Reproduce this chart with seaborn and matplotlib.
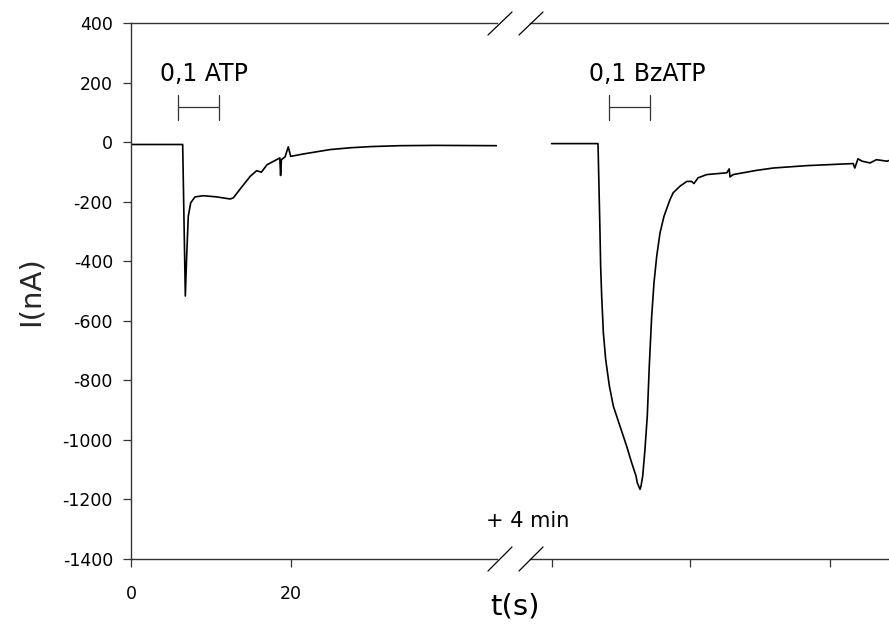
import numpy as np
import pandas as pd
import matplotlib
matplotlib.use("Agg")
import matplotlib.pyplot as plt
from matplotlib.lines import Line2D
import seaborn as sns

# ---- data ----
# left segment: time (s), current (nA)
t_left = [0, 6.46, 6.79, 6.96, 7.16, 7.46, 8.0, 9.04, 10.7, 12.4, 12.8, 13.6, 14.9,
          15.7, 16.3, 17.0, 18.2, 18.6, 18.7, 18.8, 19.25, 19.66, 19.96, 21.5, 24.9,
          27.4, 30.0, 33.6, 38.0, 45.75]
i_left = [-8, -8, -517, -383, -249, -204, -184, -180, -184, -191, -187, -159, -115,
          -96, -101, -76, -59, -53, -112, -59, -50, -16, -48, -40, -25,
          -19, -15, -12, -11, -12]

# right segment (after the 4 min break): time (s) from segment start, current (nA)
t_right = [2.7, 8.5, 8.66, 8.75, 8.83, 8.96, 9.17, 9.46, 9.92, 10.42, 11.25, 12.08,
           12.71, 13.25, 13.41, 13.75, 13.88, 14.09, 14.37, 14.66, 14.91, 15.21, 15.5,
           15.84, 16.25, 16.75, 17.5, 17.9, 18.75, 19.6, 20.2, 20.5, 21.0, 22.1, 24.6,
           24.9, 25.0, 25.4, 28.3, 30.4, 34.6, 40.4, 40.6, 41.0, 41.5, 42.5, 43.3,
           44.6, 44.875]
i_right = [-5, -5, -193, -305, -417, -517, -640, -730, -819, -887, -954, -1021,
           -1077, -1121, -1144, -1166, -1155, -1121, -1032, -920, -752, -585, -472,
           -383, -305, -249, -193, -170, -148, -132, -132, -139, -120, -109, -103,
           -90, -117, -109, -95, -87, -79, -72, -87, -56, -64, -70, -59,
           -64, -62]

left_ticks = [0, 20]
right_ticks = [2.75, 20, 37.5]
y_ticks = [400, 200, 0, -200, -400, -600, -800, -1000, -1200, -1400]

bar_left = (5.9, 11.0)
bar_right = (9.9, 15.0)
bar_level = 117
label_level = 230
label_left = "0,1 ATP"
label_right = "0,1 BzATP"
label_left_t = 9.1
label_right_t = 14.6

df_left = pd.DataFrame({"t": t_left, "I": i_left})
df_right = pd.DataFrame({"t": t_right, "I": i_right})

sns.set_style("ticks")
plt.rcParams["font.family"] = ["DejaVu Sans"]
plt.rcParams["axes.unicode_minus"] = False
plt.rcParams["text.color"] = "black"

W, H = 889, 630
fig = plt.figure(figsize=(W / 100, H / 100), dpi=100)

y_top, y_bot = 23, 559
ax1 = fig.add_axes([131 / W, 1 - y_bot / H, (497 - 131) / W, (y_bot - y_top) / H])
ax2 = fig.add_axes([530 / W, 1 - y_bot / H, (889 - 530) / W, (y_bot - y_top) / H])

sns.lineplot(data=df_left, x="t", y="I", ax=ax1, sort=False, estimator=None,
             color="black", linewidth=1.2)
sns.lineplot(data=df_right, x="t", y="I", ax=ax2, sort=False, estimator=None,
             color="black", linewidth=1.2)

for ax in (ax1, ax2):
    ax.set_ylim(-1400, 400)
    ax.set_xlabel("")
    ax.set_ylabel("")
    ax.spines["right"].set_visible(False)
    for s in ("top", "bottom", "left"):
        ax.spines[s].set_color("#333333")
        ax.spines[s].set_linewidth(1.0)
    ax.tick_params(axis="both", direction="out", length=6, width=0.9,
                   colors="#333333", labelcolor="black", labelsize=12.5)

ax1.set_xlim(0, 45.75)
ax1.set_xticks(left_ticks)
ax1.set_yticks(y_ticks)
ax1.tick_params(axis="x", pad=13)
ax1.tick_params(axis="y", pad=7)

ax2.set_xlim(0, 44.875)
ax2.set_xticks(right_ticks)
ax2.set_xticklabels([""] * len(right_ticks))
ax2.set_yticks([])
ax2.spines["left"].set_visible(False)

ax1.set_ylabel("I(nA)", fontsize=21)
ax1.yaxis.set_label_coords(-0.235, 0.5)

# stimulus bars
for ax, (a, b), lab, lt in ((ax1, bar_left, label_left, label_left_t),
                            (ax2, bar_right, label_right, label_right_t)):
    ax.plot([a, b], [bar_level, bar_level], color="#333333", lw=0.9)
    ax.plot([a, a], [bar_level - 42, bar_level + 42], color="#333333", lw=0.9)
    ax.plot([b, b], [bar_level - 42, bar_level + 42], color="#333333", lw=0.9)
    ax.text(lt, label_level, lab, ha="center", va="center", fontsize=17)

# axis break marks
for x0 in (488, 519):
    for (ya, yb) in ((35, 12), (571, 547)):
        fig.add_artist(Line2D([x0 / W, (x0 + 24) / W], [1 - ya / H, 1 - yb / H],
                              transform=fig.transFigure, color="black", lw=0.9))

fig.text(528 / W, 1 - 521 / H, "+ 4 min", ha="center", va="center", fontsize=15)
fig.text(515 / W, 1 - 607 / H, "t(s)", ha="center", va="center", fontsize=21)

fig.savefig("out.png", dpi=100)
